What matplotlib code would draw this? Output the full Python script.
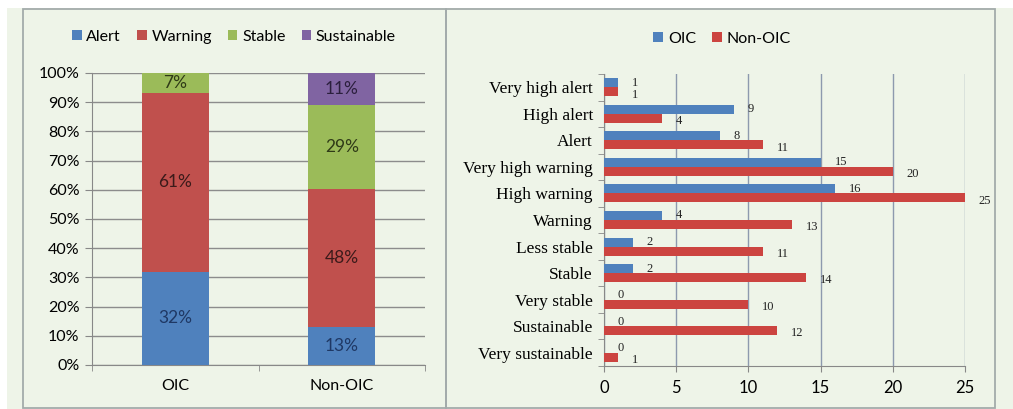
import numpy as np
import matplotlib
matplotlib.use('Agg')
import matplotlib.pyplot as plt
from matplotlib.patches import Rectangle

# data
groups = ['OIC', 'Non-OIC']
stack_names = ['Alert', 'Warning', 'Stable', 'Sustainable']
stack_vals = {
    'Alert': [32, 13],
    'Warning': [61, 48],
    'Stable': [7, 29],
    'Sustainable': [0, 11],
}
stack_colors = ['#4f81bd', '#c0504d', '#9bbb59', '#8064a2']
stack_text = ['#1f3864', '#3b1a1a', '#2f3a17', '#2b1f3d']

levels = ['Very high alert', 'High alert', 'Alert', 'Very high warning',
          'High warning', 'Warning', 'Less stable', 'Stable', 'Very stable',
          'Sustainable', 'Very sustainable']
oic = [1, 9, 8, 15, 16, 4, 2, 2, 0, 0, 0]
non_oic = [1, 4, 11, 20, 25, 13, 11, 14, 10, 12, 1]

W, H = 1013, 409
bg = '#eef4e8'
sans = 'Lato'
serif = 'Liberation Serif'

fig = plt.figure(figsize=(W / 100, H / 100), dpi=100, facecolor='white')

def px(x0, y0, x1, y1):
    # pixel box (top-left origin) -> figure fraction
    return [x0 / W, 1 - y1 / H, (x1 - x0) / W, (y1 - y0) / H]

# panel backgrounds and borders
fig.patches.append(Rectangle((7 / W, 0), 1, 1 - 8 / H, transform=fig.transFigure,
                             facecolor=bg, edgecolor='none', zorder=-2))
for box in [(23, 9, 446, 408), (446, 9, 995, 408)]:
    b = px(*box)
    fig.patches.append(Rectangle((b[0], b[1]), b[2], b[3], transform=fig.transFigure,
                                 facecolor='none', edgecolor='#a3abab', lw=1.3, zorder=-1))

# ---- left: 100% stacked columns
ax1 = fig.add_axes(px(92, 73, 425, 365))
ax1.set_zorder(1)
ax1.set_facecolor(bg)
x = np.arange(len(groups))
totals = np.sum([stack_vals[k] for k in stack_names], axis=0)
bottom = np.zeros(len(groups))
for name, col, tcol in zip(stack_names, stack_colors, stack_text):
    v = np.array(stack_vals[name], dtype=float)
    frac = v / totals
    ax1.bar(x, frac, 0.4, bottom=bottom, color=col, label=name, zorder=3)
    for xi, f, b, raw in zip(x, frac, bottom, v):
        if raw > 0:
            ax1.text(xi, b + f / 2, f'{int(raw)}%', ha='center', va='center',
                     fontsize=12.5, color=tcol, family=sans, zorder=4)
    bottom += frac
ax1.set_xlim(-0.5, 1.5)
ax1.set_ylim(0, 1)
ax1.set_yticks(np.arange(0, 1.01, 0.1))
ax1.set_yticklabels([f'{int(round(t * 100))}%' for t in np.arange(0, 1.01, 0.1)],
                    family=sans, fontsize=11.5)
ax1.set_xticks(x)
ax1.set_xticklabels(groups, family=sans, fontsize=11.5)
ax1.tick_params(axis='x', length=0, pad=10)
ax1.tick_params(axis='y', direction='out', length=5, color='#888888', pad=4)
ax1.set_xticks([-0.5, 0.5, 1.5], minor=True)
ax1.tick_params(axis='x', which='minor', direction='out', length=4, color='#888888')
ax1.grid(axis='y', color='#8c8c8c', lw=1, zorder=0)
for s in ['top', 'right']:
    ax1.spines[s].set_visible(False)
ax1.spines['left'].set_color('#888888')
ax1.spines['bottom'].set_color('#888888')
fig.legend(*ax1.get_legend_handles_labels(), loc='center',
           bbox_to_anchor=(234 / W, 1 - 37 / H), ncol=4, frameon=False,
           handlelength=0.6, handleheight=0.6, handletextpad=0.3, columnspacing=1.0,
           prop={'family': sans, 'size': 11.5})

# ---- right: horizontal grouped bars
ax2 = fig.add_axes(px(604, 74, 965, 366))
ax2.set_zorder(1)
ax2.set_facecolor(bg)
y = np.arange(len(levels))
h = 0.34
ax2.barh(y - h / 2, oic, h, color='#4f81bd', label='OIC', zorder=3)
ax2.barh(y + h / 2, non_oic, h, color='#cc4440', label='Non-OIC', zorder=3)
for yi, a, b in zip(y, oic, non_oic):
    ax2.annotate(str(a), (a, yi - h / 2), xytext=(10, 0), textcoords='offset points',
                 ha='left', va='center', fontsize=9, family=serif, color='#222222',
                 zorder=4)
    ax2.annotate(str(b), (b, yi + h / 2), xytext=(10, -2), textcoords='offset points',
                 ha='left', va='center', fontsize=9, family=serif, color='#222222',
                 zorder=4)
ax2.set_ylim(len(levels) - 0.5, -0.5)
ax2.set_xlim(0, 25)
ax2.set_xticks(np.arange(0, 26, 5))
ax2.set_xticklabels([str(t) for t in range(0, 26, 5)], family=sans, fontsize=12)
ax2.set_yticks(y)
ax2.set_yticklabels(levels, family=serif, fontsize=12.5)
ax2.tick_params(axis='y', length=0, pad=8)
ax2.set_yticks(np.arange(-0.5, len(levels), 1), minor=True)
ax2.tick_params(axis='y', which='minor', direction='out', length=4, color='#888888')
ax2.tick_params(axis='x', direction='out', length=4, color='#888888', pad=6)
ax2.grid(axis='x', color='#8d99ae', lw=1, zorder=0)
for s in ['top', 'right']:
    ax2.spines[s].set_visible(False)
ax2.spines['left'].set_color('#888888')
ax2.spines['bottom'].set_color('#888888')
fig.legend(*ax2.get_legend_handles_labels(), loc='center',
           bbox_to_anchor=(722 / W, 1 - 39 / H), ncol=2, frameon=False,
           handlelength=0.6, handleheight=0.6, handletextpad=0.3, columnspacing=1.0,
           prop={'family': sans, 'size': 11.5})

fig.savefig('out.png', dpi=100, facecolor=fig.get_facecolor())
